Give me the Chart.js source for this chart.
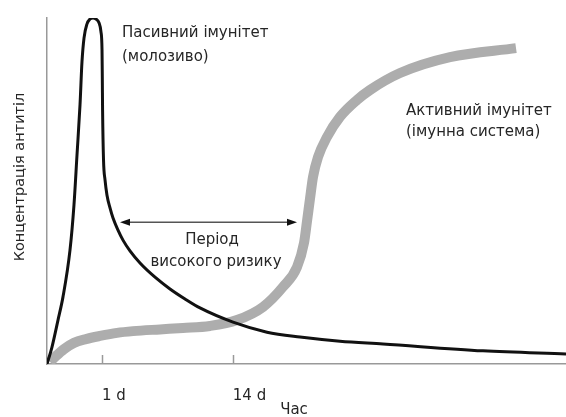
<!DOCTYPE html>
<html>
<head>
<meta charset="utf-8">
<script src="https://cdn.jsdelivr.net/npm/chart.js@4"></script>
<style>
  html, body { margin: 0; padding: 0; background: #fff; }
  #wrap { width: 566px; height: 417px; }
</style>
</head>
<body>
<div id="wrap"><canvas id="c"></canvas></div>
<script>
// --- data (arbitrary units: x = time, y = antibody concentration, both 0..100) ---
const passiveX = [0, 0.96, 2.12, 3.08, 4.43, 5.2, 5.78, 6.36, 6.74, 7.13, 7.71, 8.29, 8.86, 9.44, 10.02, 10.4, 10.6, 10.66, 10.71, 10.89, 11.18, 11.56, 12.14, 12.72, 13.68, 14.64, 15.99, 17.92, 20.81, 23.7, 26.59, 29.48, 35.84, 42.39, 48.75, 56.45, 64.74, 84.01, 100];
const passiveY = [0, 4.9, 12.7, 19.4, 32.9, 46.0, 60.4, 74.9, 87.3, 94.2, 98.3, 99.7, 100, 99.7, 98.6, 96.0, 90.8, 82.1, 73.4, 59.0, 53.2, 48.8, 45.1, 42.2, 38.7, 35.8, 32.7, 29.2, 25.1, 21.7, 18.8, 16.2, 12.1, 9.2, 7.8, 6.6, 5.8, 3.8, 2.9];

const activeX = [0.58, 1.73, 3.28, 5.2, 7.51, 10.21, 13.49, 16.57, 21.77, 26.2, 31.41, 36.61, 41.62, 45.47, 48.17, 49.52, 50.1, 50.67, 51.25, 52.22, 53.95, 56.45, 59.73, 62.24, 68.02, 77.65, 90.37];
const activeY = [0.6, 2.3, 4.3, 6.1, 7.2, 8.1, 9.0, 9.5, 10.0, 10.4, 11.0, 12.7, 16.5, 22.3, 28.0, 35.0, 41.3, 47.7, 54.0, 59.8, 65.6, 71.4, 76.3, 79.2, 84.1, 88.7, 91.3];

const tickValues = [10.6, 35.8];
const tickLabels = ['1 d', '14 d'];

// high-risk period arrow (data units)
const riskStart = 14.07;
const riskEnd = 48.17;
const riskLevel = 41.0;

const xTitle = 'Час';
const yTitle = 'Концентрація антитіл';

const fontFamily = "'DejaVu Sans', Verdana, sans-serif";
const textColor = '#262626';
const axisColor = '#999';

const toPoints = (xs, ys) => xs.map((x, i) => ({ x, y: ys[i] }));

// annotations: labels, arrow, inward tick marks, axis titles
const annotations = {
    id: 'annotations',
    afterDraw(chart) {
        const { ctx, scales: { x, y } } = chart;
        ctx.save();

        // small tick marks pointing into the plot
        ctx.strokeStyle = axisColor;
        ctx.lineWidth = 1.5;
        tickValues.forEach(v => {
            const px = Math.round(x.getPixelForValue(v)) + 0.5;
            ctx.beginPath();
            ctx.moveTo(px, y.bottom);
            ctx.lineTo(px, y.bottom - 9);
            ctx.stroke();
        });

        // double arrow
        const ax1 = x.getPixelForValue(riskStart);
        const ax2 = x.getPixelForValue(riskEnd);
        const ay = y.getPixelForValue(riskLevel);
        ctx.strokeStyle = '#555';
        ctx.lineWidth = 1.5;
        ctx.beginPath();
        ctx.moveTo(ax1 + 6, ay);
        ctx.lineTo(ax2 - 6, ay);
        ctx.stroke();
        ctx.fillStyle = '#111';
        [[ax1, 1], [ax2, -1]].forEach(([px, d]) => {
            ctx.beginPath();
            ctx.moveTo(px, ay);
            ctx.lineTo(px + d * 10, ay - 3.5);
            ctx.lineTo(px + d * 10, ay + 3.5);
            ctx.closePath();
            ctx.fill();
        });

        ctx.fillStyle = textColor;
        ctx.font = `15px ${fontFamily}`;
        ctx.textBaseline = 'middle';

        ctx.textAlign = 'left';
        ctx.fillText('Пасивний імунітет', 122, 33);
        ctx.fillText('(молозиво)', 122, 57);
        ctx.fillText('Активний імунітет', 406, 111);
        ctx.fillText('(імунна система)', 406, 132);

        ctx.textAlign = 'center';
        ctx.fillText('Період', 212, 240);
        ctx.fillText('високого ризику', 216, 262);
        ctx.fillText(xTitle, 294, 410);

        ctx.font = `14.5px ${fontFamily}`;
        ctx.translate(20, 177);
        ctx.rotate(-Math.PI / 2);
        ctx.fillText(yTitle, 0, 0);
        ctx.restore();
    }
};

new Chart(document.getElementById('c'), {
    type: 'line',
    data: {
        datasets: [
            {
                label: 'Пасивний імунітет',
                data: toPoints(passiveX, passiveY),
                borderColor: '#111',
                borderWidth: 3,
                borderJoinStyle: 'round',
                pointRadius: 0,
                cubicInterpolationMode: 'monotone',
                fill: false,
            },
            {
                label: 'Активний імунітет',
                data: toPoints(activeX, activeY),
                borderColor: '#adadad',
                borderWidth: 10,
                borderCapStyle: 'butt',
                borderJoinStyle: 'round',
                pointRadius: 0,
                cubicInterpolationMode: 'monotone',
                fill: false,
            }
        ]
    },
    options: {
        responsive: true,
        maintainAspectRatio: false,
        animation: false,
        layout: { padding: { top: 18, right: 0, left: 0, bottom: 0 } },
        plugins: { legend: { display: false }, tooltip: { enabled: false } },
        scales: {
            x: {
                type: 'linear',
                min: 0,
                max: 100,
                afterFit(s) { s.height = 53; },
                afterBuildTicks(s) { s.ticks = tickValues.map(value => ({ value })); },
                grid: { display: false },
                border: { color: axisColor, width: 1.5 },
                ticks: {
                    autoSkip: false,
                    maxRotation: 0,
                    align: 'start',
                    padding: 15,
                    color: textColor,
                    font: { family: fontFamily, size: 15 },
                    callback: (v, i) => tickLabels[i],
                },
            },
            y: {
                min: 0,
                max: 100,
                afterFit(s) { s.width = 47; },
                grid: { display: false },
                border: { color: axisColor, width: 1.5 },
                ticks: { display: false },
            }
        }
    },
    plugins: [annotations]
});
</script>
</body>
</html>
